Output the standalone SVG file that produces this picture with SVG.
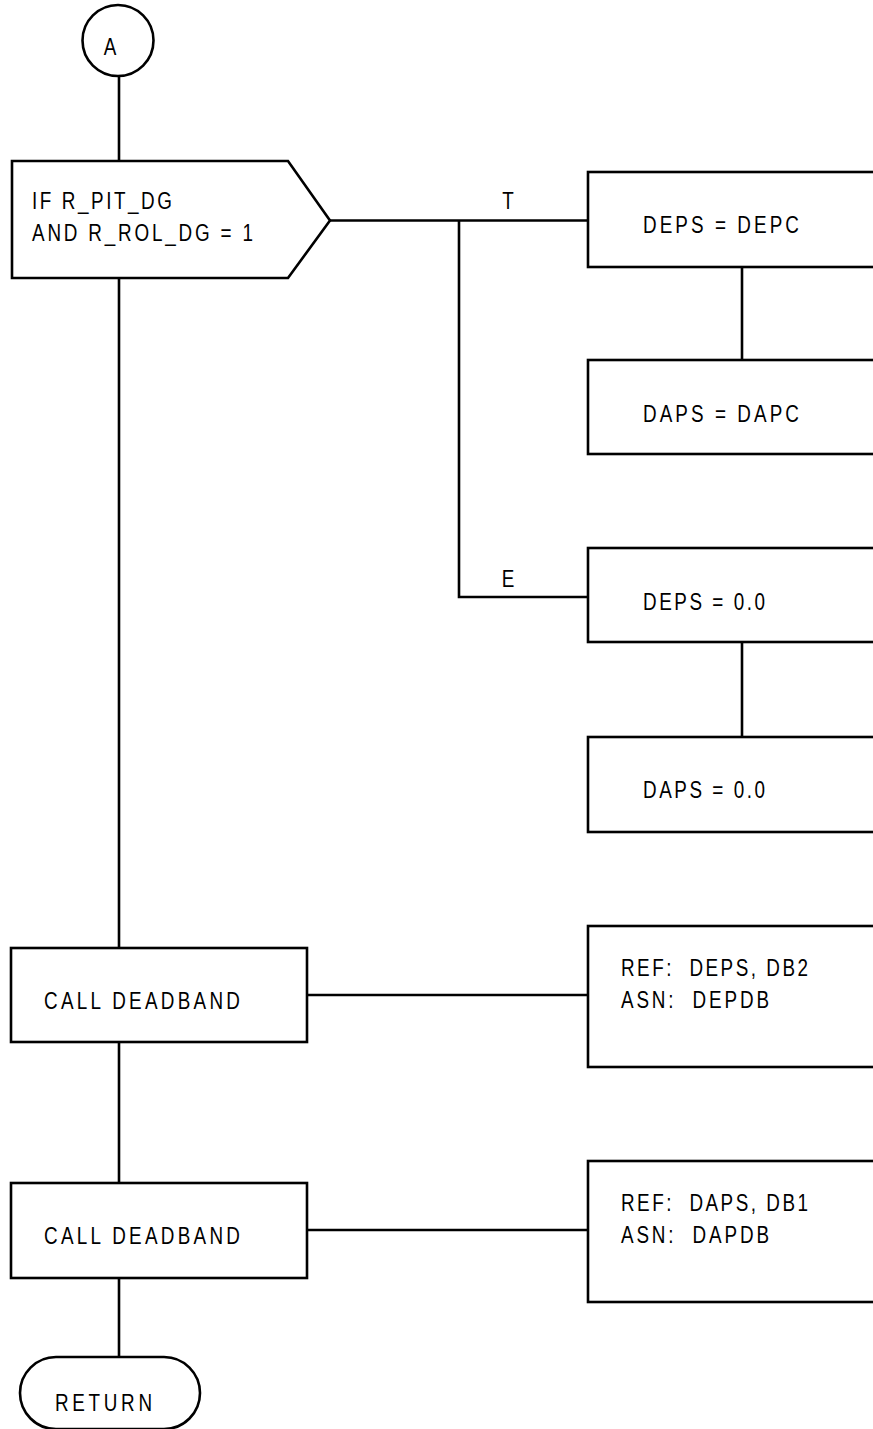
<svg xmlns="http://www.w3.org/2000/svg" width="873" height="1429" viewBox="0 0 873 1429">
<style>
.s{fill:#fff;stroke:#000;stroke-width:2.6}
.c{fill:none;stroke:#000;stroke-width:2.6}
text{font-family:"Liberation Sans",Arial,sans-serif;font-size:23px;fill:#000;white-space:pre}
</style>
<rect width="873" height="1429" fill="#fff"/>
<g id="connectors">
<line class="c" x1="119" y1="76" x2="119" y2="161"/>
<line class="c" x1="119" y1="278" x2="119" y2="948"/>
<line class="c" x1="119" y1="1042" x2="119" y2="1183"/>
<line class="c" x1="119" y1="1278" x2="119" y2="1357"/>
<line class="c" x1="330" y1="220.5" x2="588" y2="220.5"/>
<polyline class="c" points="459,220.5 459,597 588,597"/>
<line class="c" x1="742" y1="267" x2="742" y2="360"/>
<line class="c" x1="742" y1="642" x2="742" y2="737"/>
<line class="c" x1="306" y1="995" x2="588" y2="995"/>
<line class="c" x1="306" y1="1230" x2="588" y2="1230"/>
<text transform="translate(508,209) scale(0.82,1)" text-anchor="middle">T</text>
<text transform="translate(508,587) scale(0.82,1)" text-anchor="middle">E</text>
</g>
<g id="start">
<circle class="s" cx="118" cy="40.5" r="35.5"/>
<text transform="translate(110,55) scale(0.82,1)" text-anchor="middle">A</text>
</g>
<g id="if">
<polygon class="s" points="12,161 288,161 330,220.5 288,278 12,278"/>
<text transform="translate(32,209) scale(0.82,1)" textLength="170.7">IF R_PIT_DG</text>
<text transform="translate(32,241) scale(0.82,1)" textLength="269.5">AND R_ROL_DG = 1</text>
</g>
<g id="deps_depc">
<rect class="s" x="588" y="172" width="300" height="95"/>
<text transform="translate(643,233) scale(0.82,1)" textLength="190.2">DEPS = DEPC</text>
</g>
<g id="daps_dapc">
<rect class="s" x="588" y="360" width="300" height="94"/>
<text transform="translate(643,422) scale(0.82,1)" textLength="190.2">DAPS = DAPC</text>
</g>
<g id="deps_zero">
<rect class="s" x="588" y="548" width="300" height="94"/>
<text transform="translate(643,610) scale(0.82,1)" textLength="148.8">DEPS = 0.0</text>
</g>
<g id="daps_zero">
<rect class="s" x="588" y="737" width="300" height="95"/>
<text transform="translate(643,798) scale(0.82,1)" textLength="148.8">DAPS = 0.0</text>
</g>
<g id="call1">
<rect class="s" x="11" y="948" width="296" height="94"/>
<text transform="translate(44,1009) scale(0.82,1)" textLength="239">CALL DEADBAND</text>
</g>
<g id="ref1">
<rect class="s" x="588" y="926" width="300" height="141"/>
<text transform="translate(621,976) scale(0.82,1)" textLength="228">REF:  DEPS, DB2</text>
<text transform="translate(621,1008) scale(0.82,1)" textLength="180.5">ASN:  DEPDB</text>
</g>
<g id="call2">
<rect class="s" x="11" y="1183" width="296" height="95"/>
<text transform="translate(44,1244) scale(0.82,1)" textLength="239">CALL DEADBAND</text>
</g>
<g id="ref2">
<rect class="s" x="588" y="1161" width="300" height="141"/>
<text transform="translate(621,1211) scale(0.82,1)" textLength="228">REF:  DAPS, DB1</text>
<text transform="translate(621,1243) scale(0.82,1)" textLength="180.5">ASN:  DAPDB</text>
</g>
<g id="return">
<rect class="s" x="20" y="1357" width="180" height="72" rx="36" ry="36"/>
<text transform="translate(55,1411) scale(0.82,1)" textLength="118.3">RETURN</text>
</g>
</svg>
